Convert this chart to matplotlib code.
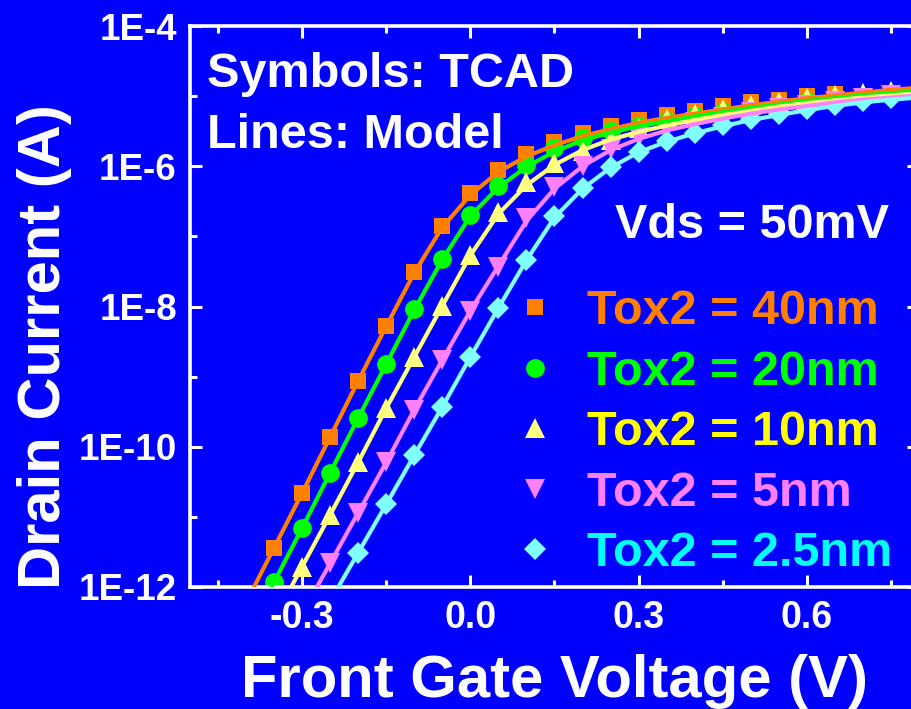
import matplotlib
matplotlib.use("Agg")
import matplotlib.pyplot as plt
from matplotlib.ticker import FixedLocator, FuncFormatter, NullFormatter
import numpy as np

plt.rcParams['font.family'] = ['Liberation Sans', 'DejaVu Sans']
plt.rcParams['font.weight'] = 'bold'
plt.rcParams['axes.labelweight'] = 'bold'

# Gate voltage grid (V) shared by all curves
VG_GRID = [-0.40, -0.35, -0.30, -0.25, -0.20, -0.15, -0.10, -0.05, 0.00,
           0.05, 0.10, 0.15, 0.20, 0.25, 0.30, 0.35, 0.40, 0.45, 0.50,
           0.55, 0.60, 0.65, 0.70, 0.75, 0.80]

labels = ["Tox2 = 40nm", "Tox2 = 20nm", "Tox2 = 10nm", "Tox2 = 5nm", "Tox2 = 2.5nm"]

# TCAD simulation, log10(Id [A]); first point at the given start voltage
tcad_start = [-0.35, -0.35, -0.30, -0.25, -0.20]
tcad_40 = [-11.44, -10.66, -9.86, -9.06, -8.28, -7.51, -6.85, -6.38, -6.05, -5.83,
           -5.66, -5.53, -5.43, -5.34, -5.27, -5.21, -5.14, -5.09, -5.05, -5.00, -4.97]
tcad_20 = [-11.93, -11.16, -10.37, -9.59, -8.82, -8.04, -7.32, -6.69, -6.28, -5.98,
           -5.74, -5.60, -5.50, -5.42, -5.35, -5.29, -5.23, -5.18, -5.12, -5.07]
tcad_10 = [-11.71, -10.97, -10.22, -9.45, -8.72, -7.99, -7.26, -6.65, -6.22, -5.95,
           -5.78, -5.63, -5.45, -5.33, -5.25, -5.18, -5.12, -5.08, -5.03, -4.99,
           -4.95, -4.92]
tcad_5 = [-11.66, -10.94, -10.22, -9.47, -8.76, -8.06, -7.44, -6.74, -6.29, -6.00,
          -5.75, -5.58, -5.46, -5.37, -5.30, -5.23, -5.17, -5.12, -5.07, -5.03, -4.99]
tcad_2p5 = [-11.51, -10.82, -10.12, -9.43, -8.72, -8.02, -7.34, -6.71, -6.31, -6.01,
            -5.79, -5.64, -5.52, -5.41, -5.32, -5.26, -5.18, -5.12, -5.07, -5.03]

# Compact model, log10(Id [A]); first point at the given start voltage
model_start = [-0.40, -0.40, -0.35, -0.30, -0.25]
model_40 = [-12.22, -11.44, -10.66, -9.86, -9.06, -8.28, -7.52, -6.87, -6.41, -6.08,
            -5.86, -5.70, -5.57, -5.47, -5.38, -5.31, -5.25, -5.19, -5.13, -5.08,
            -5.03, -4.99, -4.95, -4.91, -4.88]
model_20 = [-12.70, -11.93, -11.16, -10.37, -9.59, -8.82, -8.05, -7.33, -6.71, -6.30,
            -6.01, -5.79, -5.63, -5.52, -5.43, -5.36, -5.29, -5.23, -5.17, -5.12,
            -5.07, -5.03, -4.99, -4.96, -4.93]
model_10 = [-12.45, -11.71, -10.97, -10.22, -9.45, -8.72, -7.99, -7.27, -6.68, -6.27,
            -5.98, -5.77, -5.62, -5.51, -5.42, -5.34, -5.27, -5.21, -5.15, -5.10,
            -5.06, -5.02, -4.99, -4.96]
model_5 = [-12.38, -11.66, -10.94, -10.22, -9.47, -8.76, -8.06, -7.42, -6.78, -6.32,
           -6.00, -5.77, -5.61, -5.49, -5.40, -5.32, -5.25, -5.19, -5.14, -5.09,
           -5.05, -5.02, -4.99]
model_2p5 = [-12.20, -11.51, -10.82, -10.12, -9.43, -8.72, -8.02, -7.34, -6.73, -6.32,
             -6.02, -5.80, -5.65, -5.53, -5.43, -5.34, -5.27, -5.20, -5.14, -5.09,
             -5.05, -5.02]

tcad_sets = [tcad_40, tcad_20, tcad_10, tcad_5, tcad_2p5]
model_sets = [model_40, model_20, model_10, model_5, model_2p5]

marker_colors = ["#FF8000", "#00FF00", "#FFFF80", "#FF80FF", "#80FFFF"]
line_colors = ["#FF8000", "#00FF00", "#FFFF80", "#FF80FF", "#80FFFF"]
text_colors = ["#FF8000", "#00FF00", "#FFFF00", "#FF80FF", "#00FFFF"]
markers = ["s", "o", "^", "v", "D"]
msizes = [12, 13.5, 15, 15, 11]

BG = "#0000FF"
W, H = 912, 709


def segment(start, values):
    i0 = int(round((start - VG_GRID[0]) / 0.05))
    x = np.array(VG_GRID[i0:i0 + len(values)])
    return x, 10.0 ** np.array(values)


fig = plt.figure(figsize=(W / 100, H / 100), dpi=100, facecolor=BG)
ax = fig.add_axes([190 / W, 1 - 587 / H, 729 / W, 561 / H], facecolor=BG)

handles = []
for k in range(5):
    xs, ys = segment(tcad_start[k], tcad_sets[k])
    h, = ax.plot(xs, ys, linestyle="none", marker=markers[k], ms=msizes[k],
                 color=marker_colors[k], mec=marker_colors[k], mew=0, zorder=2)
    handles.append(h)
for k in range(5):
    xm, ym = segment(model_start[k], model_sets[k])
    ax.plot(xm, ym, color=line_colors[k], lw=3, zorder=3,
            solid_joinstyle="round")

ax.set_yscale("log")
ax.set_xlim(-0.5, 0.8)
ax.set_ylim(1e-12, 1e-4)

ax.xaxis.set_major_locator(FixedLocator([-0.3, 0.0, 0.3, 0.6]))
ax.xaxis.set_minor_locator(FixedLocator([-0.45, -0.15, 0.15, 0.45, 0.75]))
ax.xaxis.set_major_formatter(FuncFormatter(lambda v, p: f"{v:.1f}" if abs(v) > 1e-9 else "0.0"))
ax.yaxis.set_major_locator(FixedLocator([1e-12, 1e-10, 1e-8, 1e-6, 1e-4]))
ax.yaxis.set_minor_locator(FixedLocator([1e-11, 1e-9, 1e-7, 1e-5]))
ax.yaxis.set_major_formatter(FuncFormatter(lambda v, p: f"1E{int(round(np.log10(v)))}"))
ax.yaxis.set_minor_formatter(NullFormatter())

for s in ax.spines.values():
    s.set_color("white")
    s.set_linewidth(2.6)

ax.tick_params(which="both", direction="in", top=True, right=True,
               color="white", width=2.2, labelcolor="white")
ax.tick_params(which="major", length=8.6)
ax.tick_params(which="minor", length=5)
ax.tick_params(axis="x", which="major", labelsize=27, pad=9.5)
ax.tick_params(axis="y", which="major", labelsize=26.5, pad=9.5)

ax.set_xlabel("Front Gate Voltage (V)", fontsize=43, fontweight="bold",
              color="white", va="baseline")
ax.xaxis.set_label_coords(0.5, (587 - 697) / 561)
ax.set_ylabel("Drain Current (A)", fontsize=43, fontweight="bold",
              color="white", va="baseline")
ax.yaxis.set_label_coords((60 - 190) / 729, (587 - 347) / 561)

fig.text(207 / W, 1 - 87 / H, "Symbols: TCAD", fontsize=35, color="white", va="baseline")
fig.text(207 / W, 1 - 148 / H, "Lines: Model", fontsize=35, color="white", va="baseline")
fig.text(615 / W, 1 - 238 / H, "Vds = 50mV", fontsize=35, color="white", va="baseline")

leg = ax.legend(handles, labels, loc="upper left",
                bbox_to_anchor=(511 / W, 1 - 289 / H), bbox_transform=fig.transFigure,
                frameon=False, fontsize=35, labelcolor=text_colors,
                handlelength=1.0, handletextpad=0.56, labelspacing=0.32,
                borderpad=0, borderaxespad=0, numpoints=1)

fig.savefig("out.png", dpi=100, facecolor=BG)
